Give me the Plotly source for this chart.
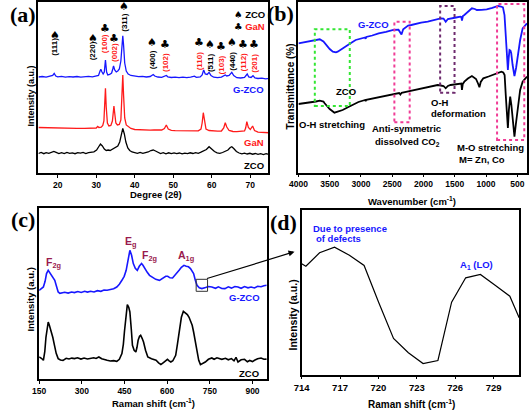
import plotly.graph_objects as go

W, H = 529, 411

# ---------------- (a) XRD ----------------
xrd_2theta_gzco = [15, 16, 17, 18, 18.7, 19.1, 19.5, 20, 21, 22, 23, 24, 25, 26, 27, 28, 29, 30, 30.6, 31.0, 31.2, 31.5, 31.8, 32.1, 32.4, 32.7, 33.0, 33.5, 34.0, 34.3, 34.5, 34.8, 35.2, 35.6, 36.0, 36.4, 36.7, 36.9, 37.1, 37.4, 37.8, 38.3, 39, 40, 41, 42, 43, 44, 44.5, 44.8, 45.2, 46, 47, 47.8, 48.2, 48.6, 49.5, 50.5, 51.5, 52.5, 53.5, 54.5, 55.5, 56, 57, 57.5, 57.9, 58.3, 58.8, 59.3, 59.8, 60.5, 61.5, 62.5, 63.2, 63.5, 63.9, 64.5, 65.2, 65.7, 66.5, 67.5, 68.5, 69.2, 69.6, 70.2, 70.7, 71.2, 72, 73, 74, 75]
xrd_int_gzco = [96, 96.5, 95.8, 96.4, 97.5, 99.5, 97, 96.2, 96.6, 95.9, 96.4, 96, 96.5, 95.8, 96.3, 96.6, 96.2, 96.8, 97.5, 102, 103.7, 101, 99, 101, 113, 101, 98, 98.5, 100, 104, 107, 103, 101, 102, 104, 112, 130, 137.3, 128, 110, 102, 99, 97.5, 96.8, 96.3, 96.7, 96, 96.5, 97.5, 98.5, 97, 96, 95.7, 96.5, 97.5, 96.2, 95.5, 95.9, 95.3, 95.8, 95.4, 95.9, 96.8, 95.6, 96, 98, 103, 99, 98.5, 100.7, 97.5, 95.8, 95.4, 95.9, 97, 98, 97, 97.5, 100.7, 97.5, 95.3, 95, 95.6, 99, 96, 95.5, 97.3, 95, 94.5, 94.8, 94.2, 94.6]

xrd_2theta_gan = [15, 17, 19, 21, 23, 25, 27, 29, 30, 30.4, 30.7, 31.3, 31.7, 32.0, 32.2, 32.4, 32.6, 32.9, 33.3, 33.8, 34.2, 34.4, 34.6, 34.8, 35.1, 35.5, 36.0, 36.4, 36.7, 36.9, 37.1, 37.4, 37.8, 38.4, 39, 40, 41, 42, 43, 44, 45, 46, 47, 47.7, 48.2, 48.7, 49.5, 50.5, 51.5, 52.5, 53.5, 54.5, 55.5, 56.5, 57.2, 57.5, 57.8, 58.1, 58.5, 59.3, 60.5, 61.5, 62.5, 63.1, 63.5, 63.9, 64.5, 65.5, 66.5, 67.5, 68.5, 68.8, 69.1, 69.5, 70, 70.6, 71.1, 72, 73, 74, 75]
xrd_int_gan = [45.5, 45.2, 45, 44.8, 44.7, 44.6, 44.6, 44.7, 45, 46.5, 45.5, 45.8, 47.5, 52, 68, 84.7, 66, 50, 47, 47.5, 52, 62, 67, 60, 50, 48, 48.5, 53, 80, 98, 78, 55, 48, 46.5, 44.5, 43.5, 43.2, 43.3, 43, 42.9, 43, 42.8, 43, 44.5, 48, 44, 42.6, 42.3, 42.2, 42.1, 42.2, 42, 42.1, 42.2, 44, 50, 60.3, 51, 44, 42.5, 42, 41.8, 42, 45, 50.3, 46, 42.5, 41.5, 41.3, 41.4, 42, 45, 51.3, 45.5, 43.5, 47, 42.5, 40.8, 40.5, 40.3, 40.2]

xrd_2theta_zco = [15, 15.7, 16.4, 17, 17.7, 18.3, 19, 19.6, 20.3, 21, 21.7, 22.4, 23.1, 23.8, 24.5, 25.2, 25.9, 26.6, 27.3, 28, 28.7, 29.4, 30.1, 30.6, 31.1, 31.6, 32.1, 32.6, 33.1, 33.6, 34.1, 34.6, 35.1, 35.6, 36.1, 36.5, 36.9, 37.3, 37.7, 38.2, 38.7, 39.3, 40, 40.7, 41.4, 42.1, 42.8, 43.5, 44.2, 44.8, 45.4, 46, 46.7, 47.4, 48.1, 48.8, 49.5, 50.2, 50.9, 51.6, 52.3, 53, 53.7, 54.4, 55.1, 55.8, 56.5, 57.2, 57.9, 58.6, 59.3, 60, 60.7, 61.4, 62.1, 62.8, 63.5, 64.2, 64.8, 65.2, 65.7, 66.4, 67.1, 67.8, 68.5, 69.2, 69.9, 70.6, 71.3, 72, 72.7, 73.4, 74.1, 74.8]
xrd_int_zco = [19.5, 20.5, 19.3, 20.4, 19.6, 20.8, 21.5, 20.6, 19.5, 20.4, 19.4, 20.5, 19.6, 20.2, 19.3, 20.4, 19.8, 20.6, 19.5, 20.3, 20.8, 21.2, 23, 26, 29, 27, 24, 22.5, 23, 22.5, 23.5, 24.5, 25.5, 27, 31, 38, 44.7, 39, 31, 25, 22.5, 21, 20.5, 19.7, 20.5, 19.6, 20.4, 21, 22.5, 23, 22, 20.5, 19.5, 20.3, 19.2, 20.2, 19.4, 20.1, 19.3, 20, 19.1, 19.9, 19.3, 20.2, 19.5, 20.4, 19.7, 20.8, 21.8, 23.5, 26.3, 24, 21.5, 20.2, 19.6, 20.5, 21.5, 23, 25.5, 26.3, 24.5, 21.5, 20, 19.2, 19.9, 19, 19.7, 18.8, 19.5, 18.6, 19.4, 18.5, 19.3, 18.6]

xrd_ticks = [20, 30, 40, 50, 60, 70]
xrd_peak_labels = ["(111)", "(220)", "(100)", "(002)", "(311)", "(400)", "(102)", "(110)", "(511)", "(103)", "(440)", "(112)", "(201)"]
xrd_peak_phase = ["ZCO", "ZCO", "GaN", "GaN", "ZCO", "ZCO", "GaN", "GaN", "ZCO", "GaN", "ZCO", "GaN", "GaN"]

# ---------------- (b) FTIR ----------------
ftir_wn_gzco = [4000, 3900, 3816, 3738, 3659, 3600, 3556, 3500, 3450, 3400, 3372, 3300, 3242, 3160, 3085, 3000, 2935, 2925, 2915, 2820, 2717, 2600, 2482, 2400, 2378, 2352, 2325, 2246, 2195, 2100, 2038, 1932, 1850, 1775, 1724, 1680, 1645, 1610, 1567, 1480, 1410, 1395, 1385, 1370, 1347, 1290, 1226, 1180, 1147, 1070, 990, 900, 808, 760, 730, 705, 687, 670, 651, 638, 625, 610, 598, 575, 546, 520, 494, 455, 415, 346]
ftir_t_gzco = [129.2, 130.5, 131.5, 132.5, 133.2, 131, 127.5, 123.5, 120.8, 120.2, 120.8, 123.5, 125.8, 129.5, 132.5, 134, 135, 133.7, 135.5, 137, 139.2, 140.7, 142.5, 142.8, 140.5, 138, 143.2, 147, 147.5, 149, 149.8, 150.8, 152, 153.2, 154.2, 154, 150.8, 153.5, 154.2, 155, 155.8, 155.5, 152, 156.5, 157.5, 161, 164.2, 163.5, 162.5, 162.7, 163.2, 164.7, 166.5, 166, 165.2, 157.5, 139.2, 117.5, 102.5, 114.5, 122.5, 122, 119.5, 107.5, 96.5, 104.5, 115.8, 132.5, 144.2, 149.2]

ftir_wn_zco = [4000, 3900, 3816, 3720, 3659, 3600, 3581, 3500, 3424, 3350, 3293, 3200, 3137, 3040, 2935, 2925, 2915, 2820, 2717, 2600, 2457, 2390, 2370, 2350, 2280, 2195, 2100, 2038, 1932, 1850, 1775, 1724, 1680, 1645, 1610, 1567, 1480, 1410, 1395, 1385, 1372, 1347, 1290, 1226, 1160, 1125, 1106, 1085, 1044, 960, 887, 800, 755, 725, 703, 685, 665, 651, 635, 614, 595, 575, 546, 525, 494, 455, 415, 346]
ftir_t_zco = [68.5, 69.2, 69.8, 71, 71.8, 71, 69.2, 63.5, 59.8, 61, 62.5, 65.5, 67.5, 70.5, 72.5, 71.3, 72.7, 74, 75.2, 77.2, 79.2, 79.5, 78, 79.7, 80.7, 81.8, 83, 83.7, 85.2, 86.5, 87.5, 87, 86.5, 84.2, 86.5, 87.5, 88.5, 89.2, 89, 82.5, 88.5, 90.8, 94, 96.5, 93.5, 88.5, 85.2, 90.5, 94.2, 96, 97.5, 99.5, 100.8, 100, 97.5, 77.5, 52.5, 44.5, 62.5, 75.8, 67.5, 50.5, 35.8, 47.5, 65.8, 82.5, 90.8, 95.8]

ftir_ticks = [4000, 3500, 3000, 2500, 2000, 1500, 1000, 500]
band_oh_stretch = [3738, 3179]
band_co2 = [2466, 2221]
band_oh_deform = [1734, 1504]
band_mo = [824, 389]

# ---------------- (c) Raman ----------------
raman_shift_gzco = [150, 158, 165, 171, 176, 182, 187, 193, 199, 205, 211, 217, 223, 228, 240, 252, 264, 274, 286, 298, 310, 320, 331, 343, 355, 367, 378, 389, 400, 412, 423, 432, 441, 449, 456, 463, 469, 475, 481, 488, 495, 502, 510, 515, 521, 530, 538, 548, 560, 573, 585, 595, 602, 610, 619, 630, 642, 650, 659, 667, 675, 682, 688, 693, 699, 705, 713, 722, 735, 745, 757, 770, 780, 792, 803, 815, 826, 838, 849, 860, 872, 884, 895, 907, 918, 930, 940, 950]
raman_int_gzco = [89, 90.5, 92.3, 98, 105.7, 109, 107, 104, 101.5, 99, 93, 87.3, 86, 86.3, 87, 86.2, 87.3, 86.7, 87.8, 86.8, 88, 87.2, 88, 87.3, 88.6, 88, 89.3, 89, 90, 90.5, 92.3, 95, 99, 103, 109, 120, 129, 124, 115.7, 111, 109, 113, 115.7, 114, 110.7, 107, 104, 102.5, 100, 99, 101, 103, 103, 101.5, 101.3, 104.5, 109, 112, 114, 113, 112.5, 110.7, 108.5, 105.7, 99, 94, 91.5, 90.7, 91.8, 92.8, 92.3, 91, 92.5, 90.8, 90.7, 92.5, 91.2, 92.8, 92.3, 91, 92.7, 91.5, 92.3, 91.3, 93, 92.5, 93.5, 94]

raman_shift_zco = [150, 158, 165, 170, 174, 178, 182, 186, 192, 198, 204, 210, 217, 225, 234, 245, 255, 265, 274, 285, 297, 308, 320, 331, 342, 350, 360, 370, 380, 389, 400, 412, 423, 432, 441, 446, 450, 455, 460, 465, 469, 474, 478, 484, 490, 494, 498, 503, 507, 512, 517, 524, 532, 545, 561, 570, 578, 588, 595, 601, 607, 613, 620, 630, 636, 642, 650, 657, 664, 671, 677, 682, 688, 693, 699, 705, 711, 717, 725, 734, 745, 757, 765, 775, 792, 805, 815, 826, 835, 842, 849, 860, 872, 882, 890, 900, 907, 918, 930, 940, 950]
raman_int_zco = [22.3, 21, 19, 28, 42, 53, 57.3, 54, 49, 42, 34, 26, 20.7, 19.3, 19, 21, 20.3, 21.2, 20.7, 21.5, 20.2, 21.3, 20.3, 20.7, 21.5, 20.8, 22.3, 20.5, 19.5, 19, 18.3, 18.7, 18, 20, 25.7, 35, 48, 64, 74.7, 72, 67.3, 50, 34, 29, 27.3, 32, 39, 43, 44, 41, 37.3, 29, 22.3, 20.5, 19, 16.5, 14.7, 17, 19, 20, 18.5, 17.3, 18.5, 24, 35, 47, 62, 68, 66.5, 64.7, 62, 59, 54, 47.3, 37, 27.3, 19, 14.7, 16, 17.3, 20, 21.3, 20, 21.5, 20, 21, 19.5, 20.7, 18.5, 22, 17.3, 19.5, 20, 17.5, 18.8, 17.7, 19, 20.5, 21.3, 20, 20.2]
raman_ticks = [150, 300, 450, 600, 750, 900]
zoom_box_shift = [702, 742]
zoom_box_int = [88, 100]

# ---------------- (d) Raman zoom ----------------
zoom_shift = [714.0, 714.33, 715.4, 716.57, 717.73, 718.88, 720.03, 721.18, 722.34, 723.49, 724.65, 725.72, 726.82, 727.97, 729.12, 730.27, 731.0]
zoom_int = [110.7, 108.3, 121.7, 127.3, 119.3, 109, 71.7, 36, 21.7, 11, 14, 72.3, 96.7, 100, 89.3, 78.3, 56.7]
zoom_ticks = [714, 717, 720, 723, 726, 729]

# ---------------- styling ----------------
BLUE = "#1717ff"
RED = "#ff1a1a"
BLACK = "#000000"
GREEN = "#33e633"
PINK = "#f03c96"
PURPLE = "#6e2a6e"
MAROON = "#991a4d"
SANS = "Liberation Sans, Arial, sans-serif"
SERIF = "Liberation Serif, Times New Roman, serif"


def frame(x0, x1, y0, y1):
    return [x0 / W, x1 / W], [1 - y1 / H, 1 - y0 / H]


def P(px, py):
    return px / W, 1 - py / H


fig = go.Figure()

def line(x, y, color, width, ax):
    fig.add_trace(go.Scatter(x=x, y=y, mode="lines", line=dict(color=color, width=width),
                             xaxis="x" + ax, yaxis="y" + ax, hoverinfo="skip", showlegend=False))

line(xrd_2theta_zco, xrd_int_zco, BLACK, 1.3, "")
line(xrd_2theta_gan, xrd_int_gan, RED, 1.3, "")
line(xrd_2theta_gzco, xrd_int_gzco, BLUE, 1.3, "")
line(ftir_wn_gzco, ftir_t_gzco, BLUE, 1.8, "2")
line(ftir_wn_zco, ftir_t_zco, BLACK, 1.8, "2")
line(raman_shift_gzco, raman_int_gzco, BLUE, 1.6, "3")
line(raman_shift_zco, raman_int_zco, BLACK, 1.6, "3")
line(zoom_shift, zoom_int, BLACK, 1.2, "4")

tickfont = dict(family=SANS, size=8.5, color=BLACK, weight="bold")

def xax(dom, rng, ticks, fsize):
    return dict(domain=dom, range=rng, tickvals=ticks, ticks="outside", ticklen=3, tickwidth=1.2,
                tickcolor=BLACK, showline=True, linecolor=BLACK, linewidth=1.5, mirror=True,
                showgrid=False, zeroline=False, tickfont=dict(tickfont, size=fsize), fixedrange=True)

def yax(dom, rng):
    return dict(domain=dom, range=rng, showticklabels=False, ticks="", showline=True,
                linecolor=BLACK, linewidth=1.5, mirror=True, showgrid=False, zeroline=False, fixedrange=True)

da = frame(30, 264, 2, 173)
db = frame(295, 528, 2, 172.5)
dc = frame(30.7, 262.7, 208.3, 379.3)
dd = frame(298.3, 520, 210, 374.5)

fig.update_layout(
    width=W, height=H, margin=dict(l=0, r=0, t=0, b=0),
    paper_bgcolor="white", plot_bgcolor="white",
    font=dict(family=SANS, size=9, color=BLACK, weight="bold"),
    xaxis=xax(da[0], [15, 74.6], xrd_ticks, 8.5), yaxis=yax(da[1], [0, 171]),
    xaxis2=xax(db[0], [4000, 345], ftir_ticks, 8.5), yaxis2=yax(db[1], [0, 170.5]),
    xaxis3=xax(dc[0], [150, 950], raman_ticks, 8.5), yaxis3=yax(dc[1], [0, 171]),
    xaxis4=xax(dd[0], [714, 731], zoom_ticks, 9.5), yaxis4=yax(dd[1], [0, 164.5]),
)
fig.update_layout(xaxis=dict(anchor="y"), xaxis2=dict(anchor="y2"), xaxis3=dict(anchor="y3"), xaxis4=dict(anchor="y4"),
                  yaxis=dict(anchor="x"), yaxis2=dict(anchor="x2"), yaxis3=dict(anchor="x3"), yaxis4=dict(anchor="x4"))

ann = []

def T(text, px, py, size=9.5, color=BLACK, xanchor="center", angle=0, family=SANS):
    x, y = P(px, py)
    ann.append(dict(text=text, x=x, y=y, xref="paper", yref="paper", showarrow=False,
                    xanchor=xanchor, yanchor="middle", textangle=angle,
                    font=dict(family=family, size=size, color=color, weight="bold")))

# panel letters
T("(a)", 14, 15, 22, family=SERIF)
T("(b)", 277, 14, 22, family=SERIF)
T("(c)", 14, 219, 22, family=SERIF)
T("(d)", 280, 222, 22, family=SERIF)

# (a) peak markers
peak_pos = [(46.7, 35, 47), (86, 38, 51), (98, 28, 44), (107, 38, 52), (117, 7, 22), (146, 43, 60),
            (159, 45, 62), (194, 43, 61), (205, 45, 63), (216.5, 47, 65), (227, 43, 61), (239, 45, 62), (249.5, 45, 63)]
for lab, ph, (px, sy, ly) in zip(xrd_peak_labels, xrd_peak_phase, peak_pos):
    T("\u2660" if ph == "ZCO" else "\u2663", px, sy, 11, BLACK, family="DejaVu Sans")
    T(lab, px, ly, 8, BLACK if ph == "ZCO" else RED, angle=-90)
T("<span style='font-family:DejaVu Sans'>\u2660</span> ZCO", 263, 15, 9.5, BLACK, xanchor="right")
T("<span style='font-family:DejaVu Sans'>\u2663</span> <span style='color:" + RED + "'>GaN</span>", 263, 26, 9.5, BLACK, xanchor="right")
T("G-ZCO", 262, 89, 9.5, BLUE, xanchor="right")
T("GaN", 262, 142, 9.5, RED, xanchor="right")
T("ZCO", 262, 165, 9.5, BLACK, xanchor="right")
T("Intensity (a.u.)", 22, 96, 9, angle=-90)
T("Degree (2\u03b8)", 150, 194, 9.5)

# (b)
T("G-ZCO", 372, 24, 9.5, BLUE)
T("ZCO", 343, 91, 9.5)
T("O-H stretching", 329, 124, 9.5)
T("Anti-symmetric", 405, 129, 9.5)
T("dissolved CO<sub>2</sub>", 406, 142, 9.5)
T("O-H", 428, 102, 9.5, xanchor="left")
T("deformation", 428, 113, 9.5, xanchor="left")
T("M-O stretching", 491, 147, 9.5)
T("M= Zn, Co", 457, 159, 9.5, xanchor="left")
T("Transmittance (%)", 287, 87, 10, angle=-90)
T("Wavenumber (cm<sup>-1</sup>)", 411, 201, 9.5)

# (c)
T("F<sub>2g</sub>", 45, 263, 10.5, MAROON)
T("E<sub>g</sub>", 124, 242, 10.5, MAROON)
T("F<sub>2g</sub>", 143, 256, 10.5, MAROON)
T("A<sub>1g</sub>", 180, 256, 10.5, MAROON)
T("G-ZCO", 258, 297, 9.5, BLUE, xanchor="right")
T("ZCO", 257, 373, 9.5, xanchor="right")
T("Intensity (a.u.)", 21, 300, 9.5, angle=-90)
T("Raman shift (cm<sup>-1</sup>)", 147, 403, 9.5)

# (d)
T("Due to presence", 308, 228, 9.5, BLUE, xanchor="left")
T("of defects", 311, 239, 9.5, BLUE, xanchor="left")
T("A<sub>1</sub> (LO)", 477, 265, 9.5, BLUE)
T("Intensity (a.u.)", 289, 315, 10.5, angle=-90)
T("Raman shift (cm<sup>-1</sup>)", 410, 404, 10)

# arrow from (c) box to (d)
hx, hy = P(291, 251.7)
ann.append(dict(x=hx, y=hy, xref="paper", yref="paper", ax=-89, ay=27.3, axref="pixel", ayref="pixel",
                showarrow=True, arrowhead=2, arrowsize=1, arrowwidth=1.2, arrowcolor=BLACK, text=""))
fig.update_layout(annotations=ann)

shapes = []
def box(xr, yr, color, xa, ya, dash="3px,3px", width=2):
    shapes.append(dict(type="rect", x0=xr[0], x1=xr[1], y0=yr[0], y1=yr[1], xref=xa, yref=ya,
                       line=dict(color=color, width=width, dash=dash), fillcolor="rgba(0,0,0,0)"))

box(band_oh_stretch, [66.5, 143.2], GREEN, "x2", "y2")
box(band_co2, [50.2, 150.8], PINK, "x2", "y2")
box(band_oh_deform, [79.8, 166.5], PURPLE, "x2", "y2")
box(band_mo, [32.5, 168.5], PINK, "x2", "y2")
box(zoom_box_shift, zoom_box_int, "#333333", "x3", "y3", dash="solid", width=1)
fig.update_layout(shapes=shapes)

fig.write_html("out.html", config={"displayModeBar": False},
               post_script="document.body.style.margin='0px';document.body.style.overflow='hidden';")
